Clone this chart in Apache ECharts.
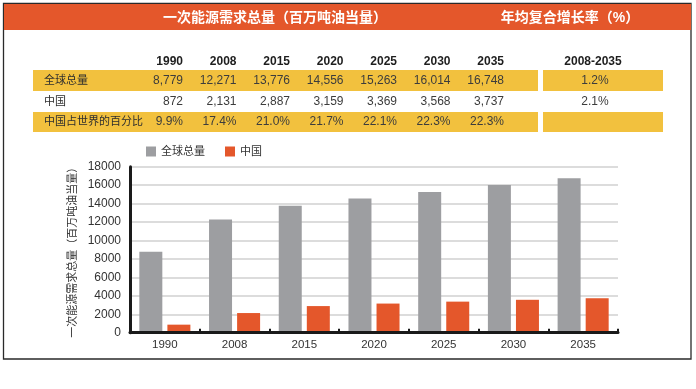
<!DOCTYPE html>
<html><head><meta charset="utf-8">
<script src="https://cdn.jsdelivr.net/npm/echarts@6/dist/echarts.min.js"></script>
<style>html,body{margin:0;padding:0;background:#fff}#c{width:696px;height:389px}</style>
</head><body><div id="c"></div>
<script>
const years = ['1990','2008','2015','2020','2025','2030','2035'];
const world = [8779,12271,13776,14556,15263,16014,16748];
const china = [872,2131,2887,3159,3369,3568,3737];
const share = ['9.9%','17.4%','21.0%','21.7%','22.1%','22.3%','22.3%'];
const rowLabels = ['全球总量','中国','中国占世界的百分比'];
const growthPeriod = '2008-2035';
const growth = ['1.2%','2.1%',''];
const titleMain = '一次能源需求总量（百万吨油当量）';
const titleGrowth = '年均复合增长率（%）';
const seriesNames = ['全球总量','中国'];
const yName = '一次能源需求总量（百万吨油当量）';

const FF = '"Liberation Sans","Noto Sans CJK SC",sans-serif';
const ORANGE = '#E4572B', GRAY = '#9D9EA1', YELLOW = '#F2C13E';
const fmt = v => v.toLocaleString('en-US');

const g = [];
// outer box + header
g.push({type:'rect', z:1, shape:{x:3.5,y:3.5,width:687.5,height:355.5}, style:{fill:'none', stroke:'#2a2a2a', lineWidth:1.3}});
g.push({type:'rect', z:2, shape:{x:4,y:4,width:687,height:26}, style:{fill:ORANGE}});
g.push({type:'text', z:3, x:275, y:18, style:{text:titleMain, fill:'#fff', font:'bold 14px '+FF, textAlign:'center', textVerticalAlign:'middle', align:'center', verticalAlign:'middle'}});
g.push({type:'text', z:3, x:570, y:18, style:{text:titleGrowth, fill:'#fff', font:'bold 14px '+FF, textAlign:'center', textVerticalAlign:'middle', align:'center', verticalAlign:'middle'}});
// yellow bands
[[70,21],[112,20]].forEach(([y,h])=>{
  g.push({type:'rect', z:2, shape:{x:33,y:y,width:505,height:h}, style:{fill:YELLOW}});
  g.push({type:'rect', z:2, shape:{x:543,y:y,width:120,height:h}, style:{fill:YELLOW}});
});
const colX = i => 183 + i*53.5;
const rowY = [80.5, 102, 122];
function txt(x,y,t,font,fill,align){
  g.push({type:'text', z:3, x:x, y:y, style:{text:t, fill:fill, font:font, textAlign:align, textVerticalAlign:'middle', align:align, verticalAlign:'middle'}});
}
years.forEach((yr,i)=>{
  txt(colX(i),62,yr,'bold 12px '+FF,'#1e1e1e','right');
  txt(colX(i),rowY[0],fmt(world[i]),'12px '+FF,'#3c3c3c','right');
  txt(colX(i),rowY[1],fmt(china[i]),'12px '+FF,'#3c3c3c','right');
  txt(colX(i),rowY[2],share[i],'12px '+FF,'#3c3c3c','right');
});
rowLabels.forEach((l,r)=>txt(44,rowY[r],l,'11px '+FF,'#2e2e2e','left'));
txt(593,62,growthPeriod,'bold 12px '+FF,'#1e1e1e','center');
growth.forEach((v,r)=>{ if(v) txt(595,rowY[r],v,'12px '+FF,'#3c3c3c','center'); });

const chart = echarts.init(document.getElementById('c'), null, {renderer:'canvas'});
chart.setOption({
  animation:false,
  backgroundColor:'#fff',
  textStyle:{fontFamily:FF},
  graphic:{elements:g},
  legend:{top:141, left:141, itemWidth:10, itemHeight:10, itemGap:20, icon:'rect',
    textStyle:{fontSize:11, color:'#333', fontFamily:FF}, data:seriesNames},
  grid:{left:130, right:78, top:166.7, bottom:56.3, containLabel:false},
  xAxis:{type:'category', data:years,
    axisLine:{lineStyle:{color:'#1a1a1a', width:3}},
    axisTick:{show:true, inside:true, length:4, lineStyle:{color:'#1a1a1a', width:2}},
    axisLabel:{color:'#333', fontSize:11.5, margin:6, fontFamily:FF},
    z:10},
  yAxis:{type:'value', min:0, max:18000, interval:2000,
    name:yName, nameLocation:'middle', nameRotate:90, nameGap:52, nameMoveOverlap:false,
    nameTextStyle:{fontSize:11, color:'#333', fontFamily:FF},
    axisLine:{show:true, lineStyle:{color:'#1a1a1a', width:3}},
    axisTick:{show:false},
    axisLabel:{color:'#333', fontSize:12, margin:9, fontFamily:FF, formatter:v=>String(v)},
    splitLine:{lineStyle:{color:'#dcdcdc', width:2}},
    z:0},
  series:[
    {name:seriesNames[0], type:'bar', data:world, barWidth:23, barGap:'22%', itemStyle:{color:GRAY}, z:3},
    {name:seriesNames[1], type:'bar', data:china, barWidth:23, itemStyle:{color:ORANGE}, z:3}
  ]
});
</script></body></html>
